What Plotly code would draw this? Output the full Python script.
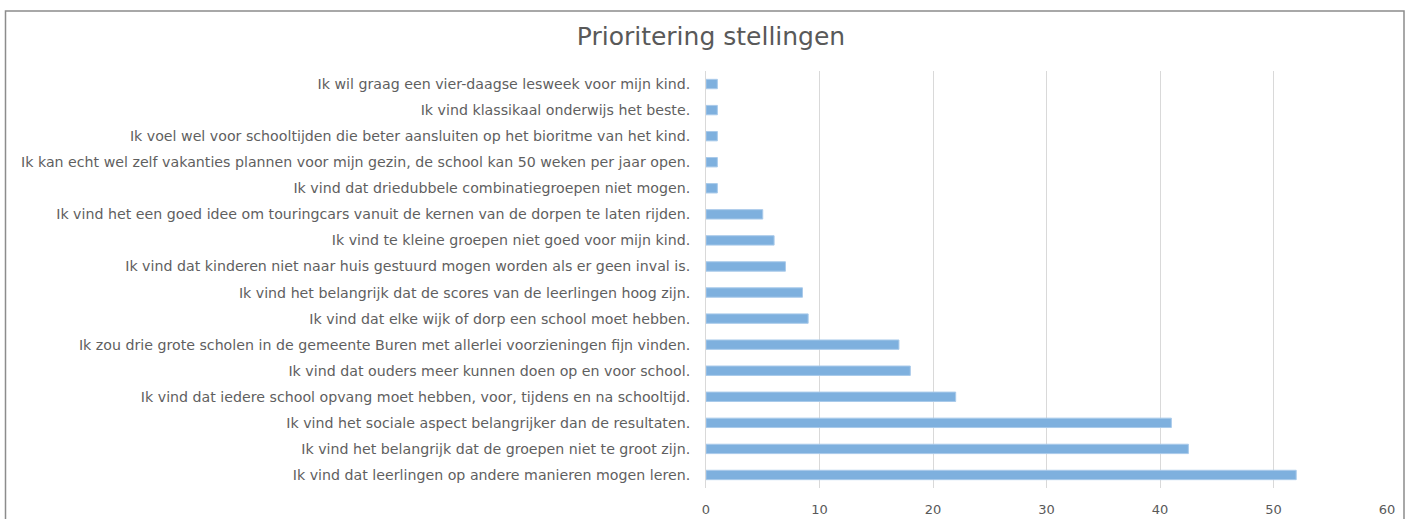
import plotly.graph_objects as go

title = "Prioritering stellingen"
categories = [
    "Ik wil graag een vier-daagse lesweek voor mijn kind.",
    "Ik vind klassikaal onderwijs het beste.",
    "Ik voel wel voor schooltijden die beter aansluiten op het bioritme van het kind.",
    "Ik kan echt wel zelf vakanties plannen voor mijn gezin, de school kan 50 weken per jaar open.",
    "Ik vind dat driedubbele combinatiegroepen niet mogen.",
    "Ik vind het een goed idee om touringcars vanuit de kernen van de dorpen te laten rijden.",
    "Ik vind te kleine groepen niet goed voor mijn kind.",
    "Ik vind dat kinderen niet naar huis gestuurd mogen worden als er geen inval is.",
    "Ik vind het belangrijk dat de scores van de leerlingen hoog zijn.",
    "Ik vind dat elke wijk of dorp een school moet hebben.",
    "Ik zou drie grote scholen in de gemeente Buren met allerlei voorzieningen fijn vinden.",
    "Ik vind dat ouders meer kunnen doen op en voor school.",
    "Ik vind dat iedere school opvang moet hebben, voor, tijdens en na schooltijd.",
    "Ik vind het sociale aspect belangrijker dan de resultaten.",
    "Ik vind het belangrijk dat de groepen niet te groot zijn.",
    "Ik vind dat leerlingen op andere manieren mogen leren.",
]
values = [1, 1, 1, 1, 1, 5, 6, 7, 8.5, 9, 17, 18, 22, 41, 42.5, 52]
x_ticks = [0, 10, 20, 30, 40, 50, 60]

W, H = 1410, 519
ml, mr, mt, mb = 706, 23, 71, 31

fig = go.Figure(go.Bar(
    x=values, y=categories, orientation="h",
    marker=dict(color="#7eb0de", line=dict(color="#a9caea", width=1)),
    hoverinfo="x+y",
))

fig.update_layout(
    width=W, height=H,
    margin=dict(l=ml, r=mr, t=mt, b=mb, autoexpand=False),
    paper_bgcolor="white", plot_bgcolor="white",
    font=dict(family="DejaVu Sans, Verdana, sans-serif", color="#595959", size=12),
    title=dict(text=title, x=(711 - ml) / (W - ml - mr), xref="paper", xanchor="center",
               y=1 - 36 / H, yanchor="middle",
               font=dict(size=25, color="#595959", family="DejaVu Sans, Verdana, sans-serif")),
    bargap=0.64,
    showlegend=False,
    xaxis=dict(range=[0, 60], tickvals=x_ticks, showgrid=True, gridcolor="#d9d9d9",
               gridwidth=1, zeroline=False, showline=False, ticks="outside", ticklen=9,
               tickcolor="rgba(0,0,0,0)", automargin=False,
               tickfont=dict(size=13, color="#595959")),
    yaxis=dict(autorange="reversed", showgrid=False, zeroline=False, showline=True,
               linecolor="#d9d9d9", linewidth=1, ticks="outside", ticklen=12,
               tickcolor="rgba(0,0,0,0)", automargin=False,
               tickfont=dict(size=14.2, color="#5f5f5f")),
    shapes=[dict(type="rect", xref="paper", yref="paper",
                 x0=(5.5 - ml) / (W - ml - mr), x1=(1404 - ml) / (W - ml - mr),
                 y0=(H - mb - 540) / (H - mt - mb), y1=(H - mb - 11) / (H - mt - mb),
                 line=dict(color="#8c8c8c", width=1.5), fillcolor="rgba(0,0,0,0)", layer="above")],
)

fig.write_html("out.html", config={"displayModeBar": False},
               post_script="document.body.style.margin='0';document.body.style.overflow='hidden';")
